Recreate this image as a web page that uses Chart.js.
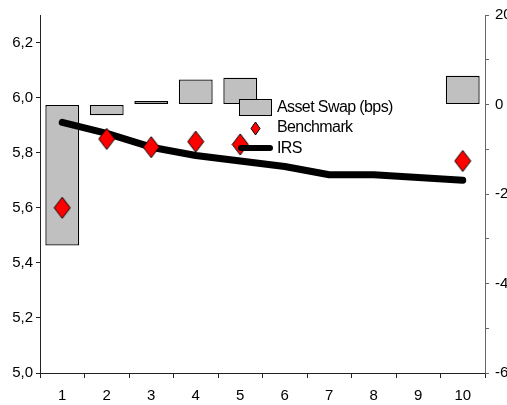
<!DOCTYPE html>
<html>
<head>
<meta charset="utf-8">
<script src="https://cdn.jsdelivr.net/npm/chart.js@4/dist/chart.umd.min.js"></script>
<style>
  html, body { margin: 0; padding: 0; background: #fff; overflow: hidden; }
  #wrap { position: relative; width: 507px; height: 405px; }
</style>
</head>
<body>
<div id="wrap"><canvas id="chart"></canvas></div>
<script>
const categories = ['1', '2', '3', '4', '5', '6', '7', '8', '9', '10'];
const assetSwap = [-31.5, -2.4, 0.8, 5.6, 6.0, null, null, null, null, 6.4];
const benchmark = [5.60, 5.85, 5.82, 5.84, 5.83, null, null, null, null, 5.77];
const irs = [5.91, 5.87, 5.82, 5.79, 5.77, 5.75, 5.72, 5.72, 5.71, 5.70];
const leftTicks = [5.0, 5.2, 5.4, 5.6, 5.8, 6.0, 6.2];
const rightTicks = [-60, -50, -40, -30, -20, -10, 0, 10, 20];
const legendLabels = ['Asset Swap (bps)', 'Benchmark', 'IRS'];

const fontFamily = '"Liberation Sans", Arial, sans-serif';

// tall red diamond used as point style
function makeDiamond(w, h) {
  const c = document.createElement('canvas');
  c.width = w + 2;
  c.height = h + 2;
  const g = c.getContext('2d');
  g.beginPath();
  g.moveTo(1 + w / 2, 1);
  g.lineTo(1 + w, 1 + h / 2);
  g.lineTo(1 + w / 2, 1 + h);
  g.lineTo(1, 1 + h / 2);
  g.closePath();
  g.fillStyle = '#ff0000';
  g.fill();
  g.lineWidth = 1;
  g.strokeStyle = '#000';
  g.stroke();
  return c;
}
const diamond = makeDiamond(16, 21);
const smallDiamond = makeDiamond(9, 13);

// legend sits inside the plot area like the original
const insideLegend = {
  id: 'insideLegend',
  afterDatasetsDraw(chart) {
    const ctx = chart.ctx;
    const x0 = chart.chartArea.left + 199;
    const y0 = chart.chartArea.top + 92;
    const rowH = 20.5;
    ctx.save();
    // asset swap box
    ctx.fillStyle = '#c0c0c0';
    ctx.strokeStyle = '#000';
    ctx.lineWidth = 1;
    ctx.fillRect(x0, y0 - 7.5, 33, 16);
    ctx.strokeRect(x0 + 0.5, y0 - 7.5, 32, 16);
    // benchmark diamond
    ctx.drawImage(smallDiamond, x0 + 16.5 - smallDiamond.width / 2, y0 + rowH - smallDiamond.height / 2 + 1);
    // irs line
    ctx.beginPath();
    ctx.moveTo(x0 + 2, y0 + rowH * 2);
    ctx.lineTo(x0 + 31, y0 + rowH * 2);
    ctx.lineWidth = 6;
    ctx.lineCap = 'round';
    ctx.strokeStyle = '#000';
    ctx.stroke();
    // labels
    ctx.fillStyle = '#000';
    ctx.font = '16px ' + fontFamily;
    ctx.letterSpacing = '-0.6px';
    ctx.textBaseline = 'middle';
    ctx.textAlign = 'left';
    for (let i = 0; i < legendLabels.length; i++) {
      ctx.fillText(legendLabels[i], x0 + 38, y0 + 0.5 + rowH * i);
    }
    ctx.restore();
  }
};

const ctx = document.getElementById('chart').getContext('2d');
let chart = new Chart(ctx, {
  data: {
    labels: categories,
    datasets: [
      {
        type: 'line',
        label: 'Benchmark',
        data: benchmark,
        yAxisID: 'yLeft',
        showLine: false,
        pointStyle: diamond,
        pointRadius: 10,
        order: 0
      },
      {
        type: 'line',
        label: 'IRS',
        data: irs,
        yAxisID: 'yLeft',
        borderColor: '#000',
        borderWidth: 7,
        borderCapStyle: 'round',
        borderJoinStyle: 'round',
        pointRadius: 0,
        tension: 0,
        order: 1
      },
      {
        type: 'bar',
        label: 'Asset Swap (bps)',
        data: assetSwap,
        yAxisID: 'yRight',
        backgroundColor: '#c0c0c0',
        borderColor: '#000',
        borderWidth: 1.3,
        borderSkipped: false,
        categoryPercentage: 1,
        barPercentage: 0.76,
        order: 2
      }
    ]
  },
  options: {
    responsive: true,
    maintainAspectRatio: false,
    animation: false,
    layout: { padding: { top: 15, left: 0, right: 0, bottom: 0 } },
    plugins: {
      legend: { display: false },
      tooltip: { enabled: false }
    },
    scales: {
      x: {
        offset: true,
        grid: {
          offset: true,
          drawOnChartArea: false,
          drawTicks: true,
          tickLength: 5,
          color: '#222'
        },
        border: { color: '#222', width: 1 },
        ticks: {
          color: '#000',
          padding: 9,
          font: { family: fontFamily, size: 15 },
          maxRotation: 0
        },
        afterFit(scale) { scale.height = 32; }
      },
      yLeft: {
        position: 'left',
        min: 5.0,
        max: 6.3,
        grid: { drawOnChartArea: false, tickLength: 4, color: '#222' },
        border: { color: '#222', width: 1 },
        ticks: {
          color: '#000',
          padding: 3,
          font: { family: fontFamily, size: 15 },
          callback: (v) => v.toFixed(1).replace('.', ',')
        },
        afterBuildTicks(scale) {
          scale.ticks = leftTicks.map(v => ({ value: v }));
        },
        afterFit(scale) { scale.width = 40; }
      },
      yRight: {
        position: 'right',
        min: -60,
        max: 20,
        grid: { drawOnChartArea: false, tickLength: 4, color: '#666' },
        border: { color: '#666', width: 1 },
        ticks: {
          color: '#000',
          padding: 6,
          font: { family: fontFamily, size: 15 },
          callback: (v) => (v % 20 === 0 ? String(v) : '')
        },
        afterBuildTicks(scale) {
          scale.ticks = rightTicks.map(v => ({ value: v }));
        },
        afterFit(scale) { scale.width = 22; }
      }
    }
  },
  plugins: [insideLegend]
});
</script>
</body>
</html>
